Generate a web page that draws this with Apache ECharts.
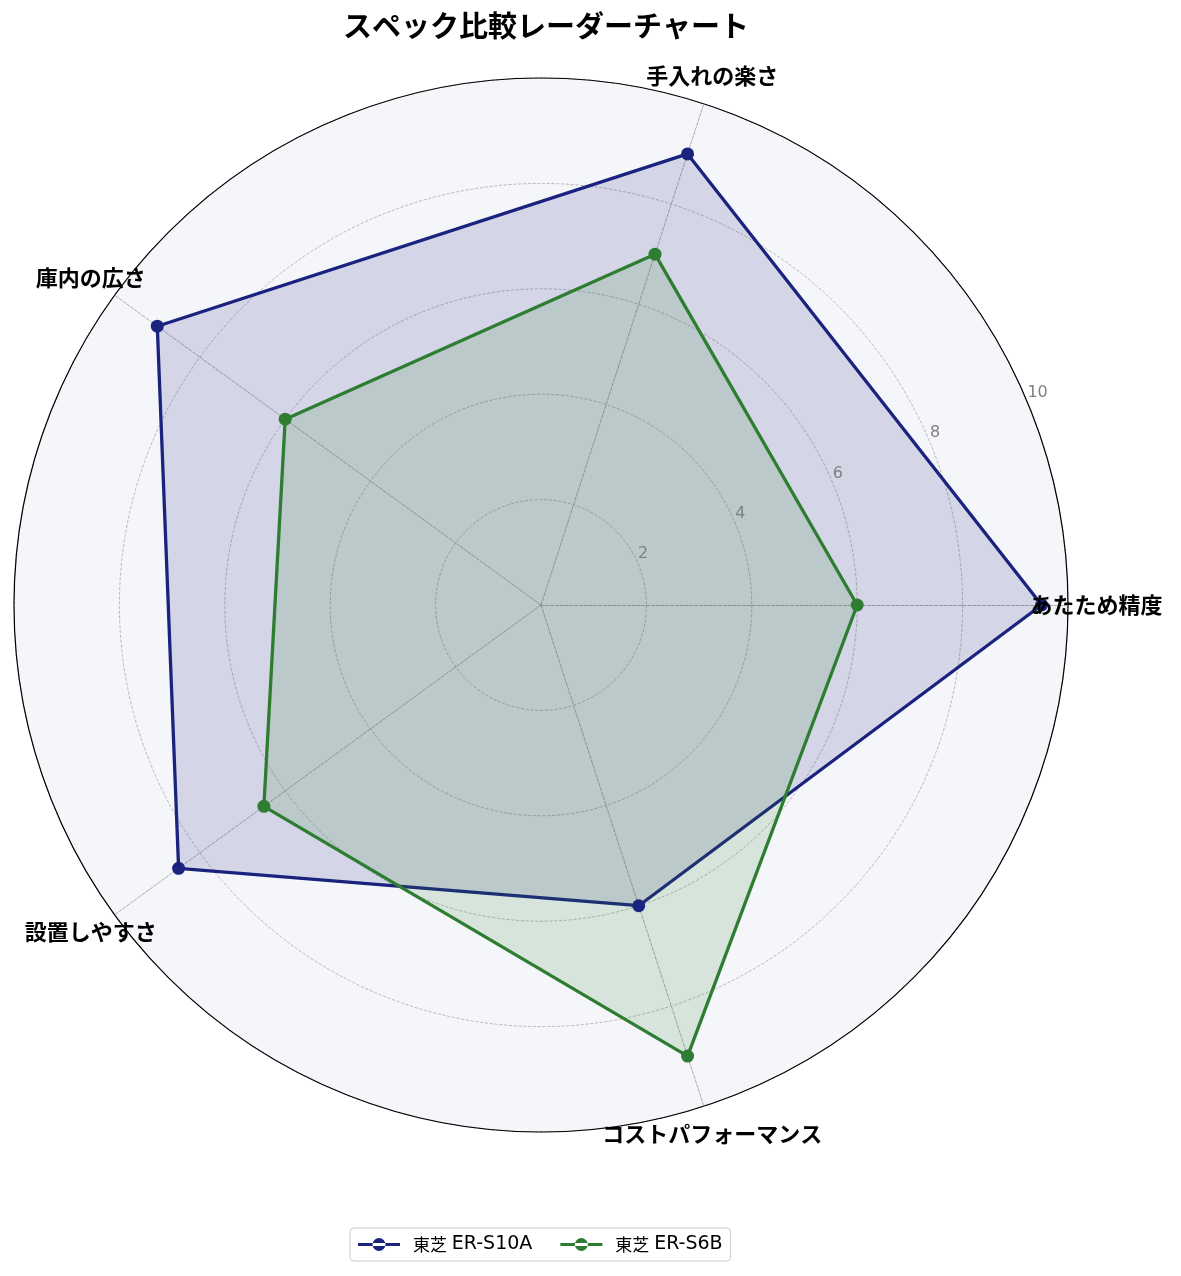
<!DOCTYPE html>
<html>
<head>
<meta charset="utf-8">
<script src="https://cdn.jsdelivr.net/npm/echarts@6/dist/echarts.min.js"></script>
<style>
  html, body { margin: 0; padding: 0; background: #fff; }
  #chart { width: 1181px; height: 1276px; }
</style>
</head>
<body>
<div id="chart"></div>
<script>
var indicators = ['あたため精度', '手入れの楽さ', '庫内の広さ', '設置しやすさ', 'コストパフォーマンス'];
var seriesNames = ['東芝 ER-S10A', '東芝 ER-S6B'];
var valuesS10A = [9.5, 9, 9, 8.5, 6];
var valuesS6B = [6, 7, 6, 6.5, 9];
var ringTicks = [2, 4, 6, 8, 10];
var colors = ['#1a237e', '#2e7d32'];
var maxValue = 10;

var FONT = '"Noto Sans CJK JP", "Noto Sans", sans-serif';
var LATIN = '"DejaVu Sans", "Noto Sans CJK JP", sans-serif';
var center = [541, 605];
var radius = 527;
var nameRadius = 10.55;
var tickAngle = 22.5;
var legendIcon = 'path://M0,6h42v2.8h-42z M14.5,7.4a6.5,6.5 0 1,0 13,0a6.5,6.5 0 1,0 -13,0z';

var chart = echarts.init(document.getElementById('chart'));

var option = {
  backgroundColor: '#fff',
  textStyle: { fontFamily: FONT },
  title: {
    text: 'スペック比較レーダーチャート',
    left: center[0],
    textAlign: 'center',
    top: 6,
    textStyle: { fontFamily: FONT, fontSize: 29, fontWeight: 'bold', color: '#000' }
  },
  legend: {
    bottom: 15,
    left: 350,
    data: seriesNames.map(function (n) { return { name: n, icon: legendIcon }; }),
    formatter: function (name) {
      var k = name.indexOf(' ');
      return '{k|' + name.slice(0, k) + '} {l|' + name.slice(k + 1) + '}';
    },
    itemWidth: 42,
    itemHeight: 15,
    itemGap: 28,
    borderColor: '#ccc',
    borderWidth: 1,
    borderRadius: 4,
    padding: [7, 8],
    textStyle: {
      fontFamily: FONT, fontSize: 17, color: '#000',
      rich: {
        k: { fontSize: 17, fontFamily: FONT, color: '#000', padding: [0, 0, 0, 8] },
        l: { fontSize: 19, fontFamily: LATIN, color: '#000', padding: [0, 0, 0, 1] }
      }
    }
  },
  radar: {
    center: center,
    radius: radius,
    startAngle: 0,
    shape: 'circle',
    splitNumber: 5,
    indicator: indicators.map(function (n) { return { name: n, min: 0, max: maxValue }; }),
    axisName: { show: false },
    axisLine: { lineStyle: { color: '#999', type: 'dashed', width: 0.8 } },
    splitLine: { lineStyle: { color: '#aaa', type: 'dashed', width: 0.8 } },
    splitArea: { show: true, areaStyle: { color: ['#f5f6fa'] } },
    axisTick: { show: false },
    axisLabel: { show: false }
  },
  polar: { center: center, radius: radius },
  angleAxis: {
    type: 'value', min: 0, max: 360, startAngle: 0, clockwise: false,
    axisLine: { show: true, lineStyle: { color: '#000', width: 1.2 } },
    axisTick: { show: false }, axisLabel: { show: false }, splitLine: { show: false }
  },
  radiusAxis: {
    min: 0, max: maxValue,
    axisLine: { show: false }, axisTick: { show: false }, axisLabel: { show: false }, splitLine: { show: false }
  },
  series: [
    {
      type: 'radar',
      z: 3,
      symbol: 'circle',
      symbolSize: 13,
      data: [
        {
          name: seriesNames[0], value: valuesS10A,
          itemStyle: { color: colors[0] },
          lineStyle: { color: colors[0], width: 3.3 },
          areaStyle: { color: colors[0], opacity: 0.15 }
        },
        {
          name: seriesNames[1], value: valuesS6B,
          itemStyle: { color: colors[1] },
          lineStyle: { color: colors[1], width: 3.3 },
          areaStyle: { color: colors[1], opacity: 0.15 }
        }
      ]
    },
    {
      type: 'scatter',
      coordinateSystem: 'polar',
      clip: false,
      z: 10,
      symbolSize: 1,
      silent: true,
      itemStyle: { color: 'rgba(0,0,0,0)', opacity: 1 },
      data: indicators.map(function (n, i) { return { name: n, value: [nameRadius, i * 360 / indicators.length] }; }),
      label: {
        show: true,
        position: [0, 0],
        align: 'center',
        verticalAlign: 'middle',
        formatter: '{b}',
        color: '#000',
        fontSize: 22,
        fontWeight: 'bold',
        fontFamily: FONT
      }
    },
    {
      type: 'scatter',
      coordinateSystem: 'polar',
      clip: false,
      z: 9,
      symbolSize: 1,
      silent: true,
      itemStyle: { color: 'rgba(0,0,0,0)', opacity: 1 },
      data: ringTicks.map(function (t) { return { name: String(t), value: [t, tickAngle] }; }),
      label: {
        show: true,
        position: [0, -10],
        align: 'left',
        verticalAlign: 'middle',
        formatter: '{b}',
        color: '#808080',
        fontSize: 16,
        fontFamily: LATIN
      }
    }
  ]
};

chart.setOption(option);
</script>
</body>
</html>
